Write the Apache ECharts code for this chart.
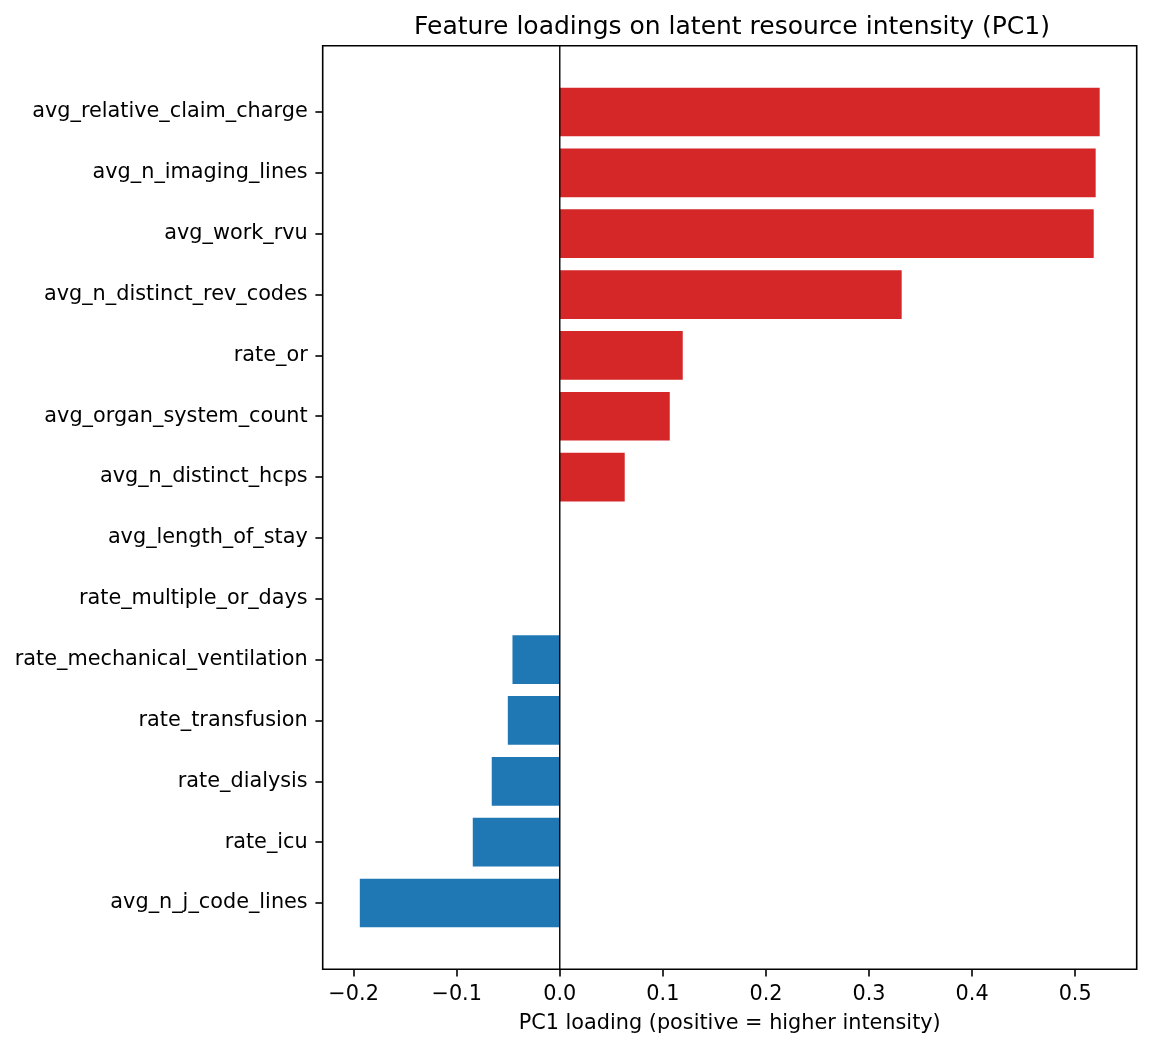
<!DOCTYPE html>
<html>
<head>
<meta charset="utf-8">
<script src="https://cdn.jsdelivr.net/npm/echarts@6/dist/echarts.min.js"></script>
<style>
html,body{margin:0;padding:0;background:#fff;}
#chart{width:1152px;height:1048px;}
</style>
</head>
<body>
<div id="chart"></div>
<script>
const categories = [
  "avg_relative_claim_charge",
  "avg_n_imaging_lines",
  "avg_work_rvu",
  "avg_n_distinct_rev_codes",
  "rate_or",
  "avg_organ_system_count",
  "avg_n_distinct_hcps",
  "avg_length_of_stay",
  "rate_multiple_or_days",
  "rate_mechanical_ventilation",
  "rate_transfusion",
  "rate_dialysis",
  "rate_icu",
  "avg_n_j_code_lines"
];
const loadings = [0.5238, 0.5199, 0.5180, 0.3317, 0.1193, 0.1067, 0.0630, 0.0, 0.0, -0.0459, -0.0504, -0.0660, -0.0844, -0.1940];
const xTickValues = [-0.2, -0.1, 0.0, 0.1, 0.2, 0.3, 0.4, 0.5];
const zeroLine = [[0, 0], [0, 1]];
const titleText = "Feature loadings on latent resource intensity (PC1)";
const xAxisTitle = "PC1 loading (positive = higher intensity)";

const X_MIN = -0.2300, X_MAX = 0.5597;
const RED = "#d62728", BLUE = "#1f77b4";
const FONT = "DejaVu Sans";
const FS = 20.8;

const chart = echarts.init(document.getElementById('chart'), null, {renderer: 'canvas'});
const option = {
  backgroundColor: '#ffffff',
  animation: false,
  textStyle: {fontFamily: FONT},
  title: {
    text: titleText,
    left: 409,
    top: 10,
    textStyle: {fontFamily: FONT, fontSize: 25, fontWeight: 'normal', color: '#000'}
  },
  grid: [
    {left: 322.7, right: 15.3, top: 81.6, height: 851.8, containLabel: false},
    {left: 322.7, right: 15.3, top: 45.7, height: 923.6, containLabel: false,
     show: true, borderColor: '#000', borderWidth: 1.6, backgroundColor: 'transparent'}
  ],
  xAxis: [
    {type: 'value', gridIndex: 0, min: X_MIN, max: X_MAX, show: false, splitLine: {show: false}},
    {type: 'value', gridIndex: 1, min: X_MIN, max: X_MAX, position: 'bottom',
     splitLine: {show: false},
     axisLine: {show: false, onZero: false},
     axisTick: {show: true, length: 7.3, lineStyle: {color: '#000', width: 1.6}, customValues: xTickValues},
     axisLabel: {show: true, margin: 15, fontSize: FS, fontFamily: FONT, color: '#000',
                 customValues: xTickValues,
                 formatter: v => (Math.abs(v) < 1e-9 ? '0.0' : v.toFixed(1).replace('-', '\u2212'))},
     name: xAxisTitle, nameLocation: 'middle', nameGap: 44,
     nameTextStyle: {fontSize: FS, fontFamily: FONT, color: '#000'}}
  ],
  yAxis: [
    {type: 'category', gridIndex: 0, data: categories, inverse: true, position: 'left',
     axisLine: {show: false, onZero: false},
     axisTick: {show: true, alignWithLabel: true, length: 7.3, lineStyle: {color: '#000', width: 1.6}},
     axisLabel: {margin: 15, fontSize: FS, fontFamily: FONT, color: '#000', padding: [5, 0, 0, 0]},
     splitLine: {show: false}},
    {type: 'value', gridIndex: 1, min: 0, max: 1, show: false, splitLine: {show: false}}
  ],
  series: [
    {type: 'bar', xAxisIndex: 0, yAxisIndex: 0, data: loadings, barWidth: 48.7,
     itemStyle: {color: p => (p.value >= 0 ? RED : BLUE)}},
    {type: 'line', xAxisIndex: 1, yAxisIndex: 1, data: zeroLine, symbol: 'none',
     lineStyle: {color: '#000', width: 1.4}, z: 5}
  ]
};
chart.setOption(option);
</script>
</body>
</html>
